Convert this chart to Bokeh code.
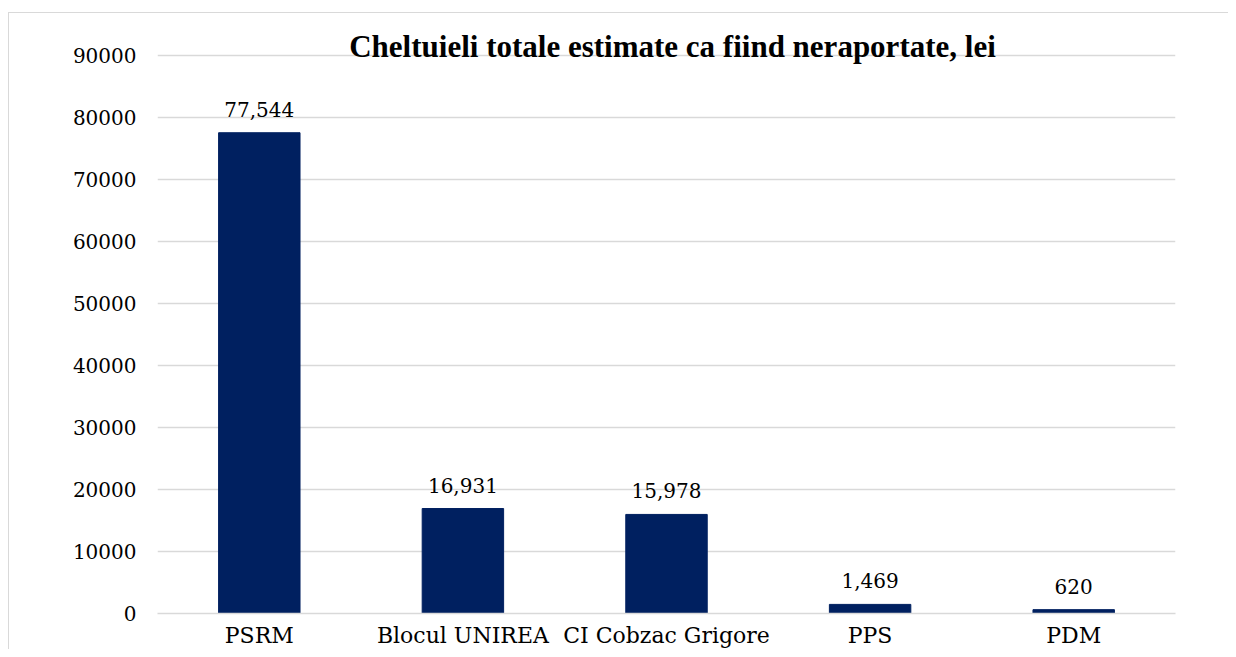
from bokeh.plotting import figure
from bokeh.models import ColumnDataSource, Label, FixedTicker, NumeralTickFormatter, Range1d
from bokeh.core.properties import value
from bokeh.embed import file_html
from bokeh.resources import INLINE

categories = ["PSRM", "Blocul UNIREA", "CI Cobzac Grigore", "PPS", "PDM"]
values = [77544, 16931, 15978, 1469, 620]
labels = [f"{v:,}" for v in values]
y_ticks = [0, 10000, 20000, 30000, 40000, 50000, 60000, 70000, 80000, 90000]
title_text = "Cheltuieli totale estimate ca fiind neraportate, lei"

FONT = "DejaVu Serif"
TFONT = "Liberation Serif"
BAR = "#002060"
GRID = "#d9d9d9"

src = ColumnDataSource(dict(cat=categories, val=values, lab=labels))

p = figure(x_range=categories, y_range=Range1d(0, 95000),
           width=1220, height=637, output_backend="svg", toolbar_location=None,
           min_border_left=148, min_border_right=54, min_border_top=11, min_border_bottom=30)
p.outline_line_color = None
p.styles = {"border-top": f"1px solid {GRID}", "border-left": f"1px solid {GRID}",
            "margin-top": "12px", "margin-left": "8px"}

p.vbar(x="cat", top="val", width=0.4, source=src, color=BAR)
p.text(x="cat", y="val", text="lab", source=src, text_align="center", text_baseline="bottom",
       y_offset=-16, text_font=value(FONT), text_font_size="20px", text_color="#000000")

p.add_layout(Label(x=2.5, y=90000, text=title_text, text_align="center", text_baseline="middle",
                   x_offset=6, y_offset=9, text_font=TFONT, text_font_size="31px",
                   text_font_style="bold", text_color="#000000"))

p.xgrid.grid_line_color = None
p.ygrid.grid_line_color = GRID
p.ygrid.grid_line_width = 1.5
p.yaxis.ticker = FixedTicker(ticks=y_ticks)
p.yaxis.formatter = NumeralTickFormatter(format="0")
p.yaxis.axis_line_color = None
p.yaxis.major_tick_line_color = None
p.yaxis.minor_tick_line_color = None
p.yaxis.major_label_standoff = 15
p.yaxis.major_label_text_font_size = "20px"
p.xaxis.axis_line_color = GRID
p.xaxis.axis_line_width = 1.5
p.xaxis.major_tick_line_color = None
p.xaxis.minor_tick_line_color = None
p.xaxis.major_label_standoff = 3
p.xaxis.major_label_text_font_size = "22px"
for ax in (p.xaxis, p.yaxis):
    ax.major_label_text_font = FONT
    ax.major_label_text_color = "#000000"

open("out.html", "w").write(file_html(p, INLINE))
